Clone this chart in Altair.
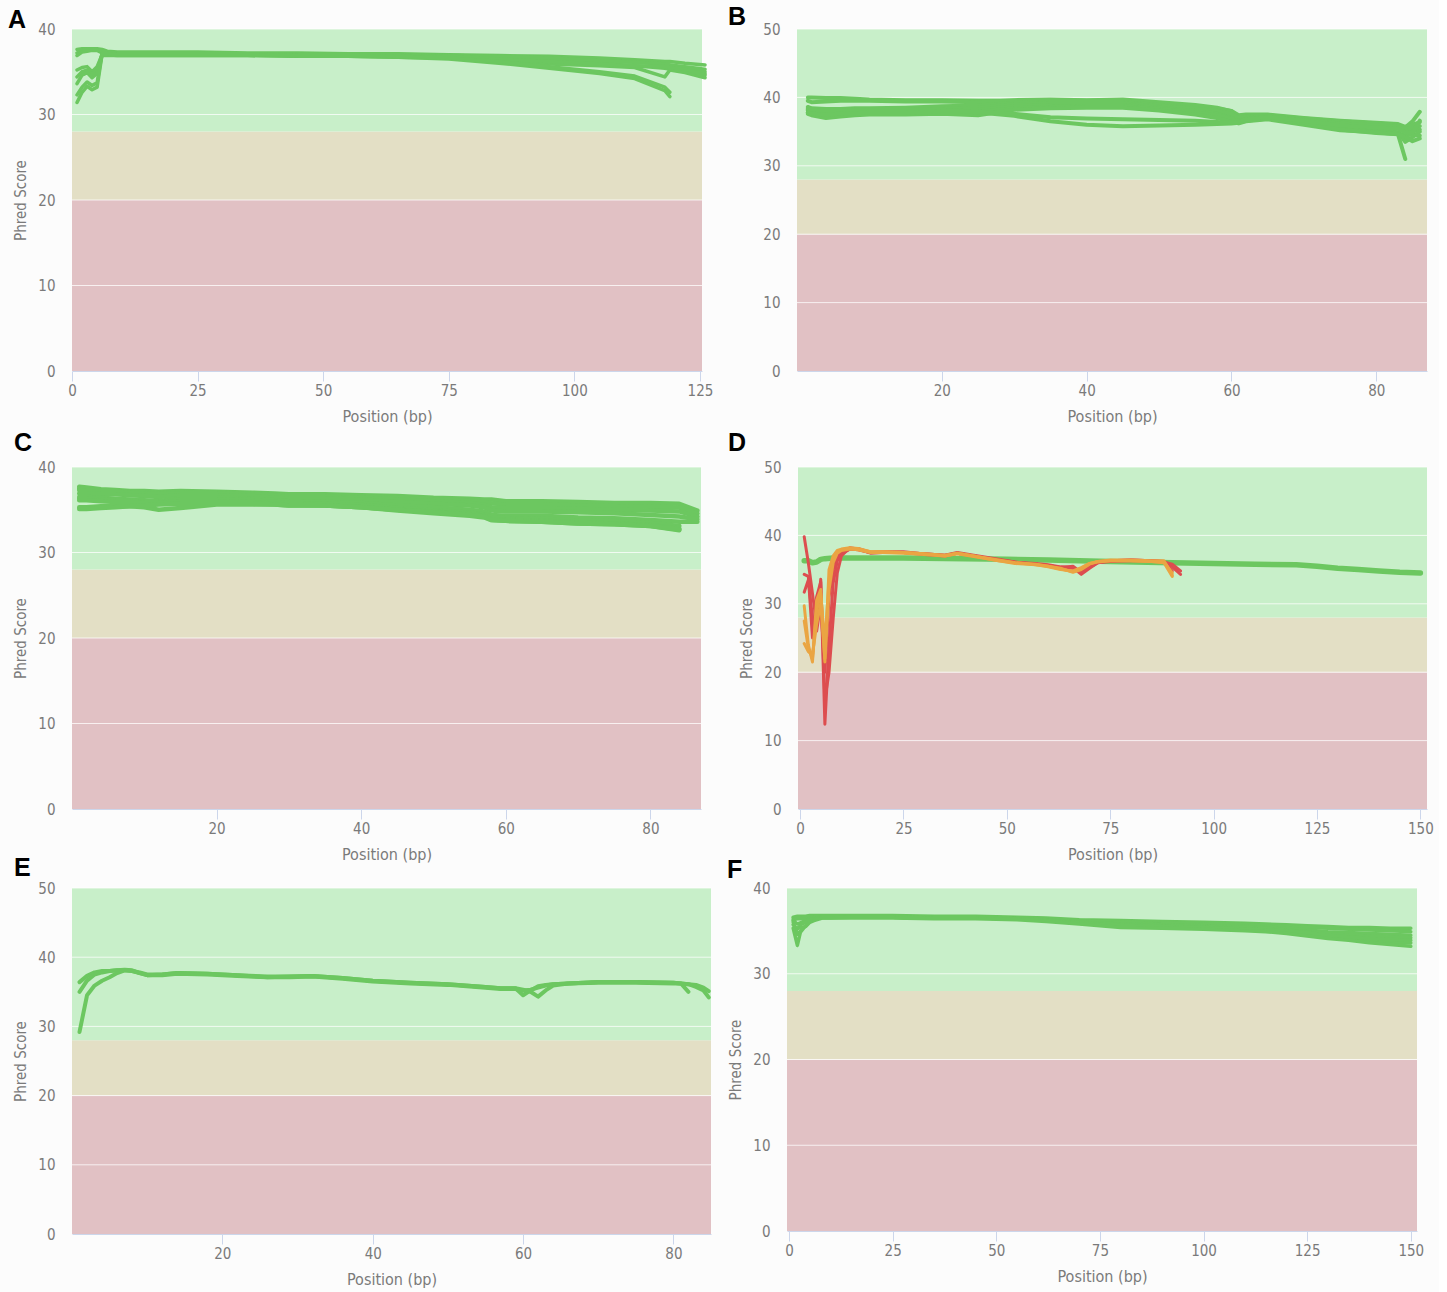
import altair as alt
import pandas as pd

# ---------------------------------------------------------------------------
# Per-base sequence quality (mean Phred score by read position), six runs.
# ---------------------------------------------------------------------------

# Panel A: 126 bp reads
A_pos = [1, 2, 3, 4, 5, 6, 7, 9, 15, 25, 35, 45, 55, 65, 75, 85, 95, 105, 112, 118, 119, 122, 126]
A_series = {
    "a1": [37.6, 37.7, 37.7, 37.7, 37.7, 37.6, 37.4, 37.3, 37.3, 37.3, 37.2, 37.2, 37.1, 37.1, 37.0, 36.9, 36.8, 36.6, 36.4, 36.2, 36.2, 36.0, 35.8],
    "a7": [37.2, 37.5, 37.6, 37.6, 37.6, 37.4, 37.3, 37.2, 37.2, 37.2, 37.1, 37.1, 37.0, 37.0, 36.9, 36.8, 36.6, 36.3, 36.1, 35.9, 35.8, 35.4, 35.0],
    "a2": [36.9, 37.3, 37.4, 37.5, 37.5, 37.2, 37.1, 37.0, 37.0, 37.0, 37.0, 36.9, 36.9, 36.8, 36.8, 36.6, 36.3, 36.0, 35.7, 35.4, 35.3, 35.1, 34.8],
    "a3": [35.2, 35.5, 35.6, 35.0, 35.6, 37.0, 37.0, 36.9, 36.9, 36.9, 36.9, 36.8, 36.8, 36.7, 36.6, 36.2, 35.9, 35.7, 35.5, 34.4, 35.2, 34.9, 34.3],
    "a6": [32.3, 33.2, 33.8, 33.4, 33.7, 37.2, 37.2, 37.1, 37.1, 37.1, 37.1, 37.0, 37.0, 37.0, 36.9, 36.8, 36.6, 36.3, 36.1, 35.9, 35.8, 35.6, 35.3],
    "a8": [34.4, 35.0, 35.2, 34.6, 35.2, 37.1, 37.1, 37.0, 37.0, 37.0, 37.0, 36.9, 36.9, 36.9, 36.8, 36.5, 36.2, 35.9, 35.7, 35.6, 35.5, 35.3, 34.6],
    "a4": [33.6, 34.6, 34.9, 34.3, 34.8, 36.9, 36.9, 36.9, 36.9, 36.9, 36.9, 36.8, 36.8, 36.7, 36.5, 36.0, 35.4, 34.8, 34.2, 32.8, 32.1, None, None],
    "a5": [31.4, 32.6, 33.3, 32.9, 33.2, 37.1, 37.1, 37.0, 37.0, 37.0, 37.0, 36.9, 36.9, 36.8, 36.6, 36.2, 35.6, 35.0, 34.5, 33.2, 32.6, None, None],
}

# Panel B: 86 bp reads
B_pos = [1.5, 2, 4, 6, 8, 10, 15, 20, 25, 30, 35, 40, 45, 50, 55, 58, 60, 61, 62, 65, 70, 75, 80, 83, 84, 85, 86]
B_series = {
    "b1": [40.0, 40.0, 39.9, 39.9, 39.8, 39.7, 39.6, 39.6, 39.5, 39.5, 39.6, 39.5, 39.5, 39.1, 38.7, 38.4, 38.0, 37.2, 37.3, 37.4, 36.9, 36.5, 36.2, 36.0, 35.6, 36.5, 37.9],
    "b2": [39.5, 39.3, 39.4, 39.5, 39.5, 39.5, 39.4, 39.4, 39.3, 39.6, 39.7, 39.6, 39.7, 39.3, 38.9, 38.5, 38.0, 37.4, 37.5, 37.5, 37.0, 36.6, 36.3, 36.1, 35.7, 36.0, 36.4],
    "b3": [38.6, 38.4, 38.3, 38.3, 38.4, 38.4, 38.5, 38.7, 38.8, 39.2, 39.3, 39.3, 39.3, 38.9, 38.4, 38.1, 37.5, 36.9, 37.2, 37.3, 36.8, 36.4, 36.1, 35.9, 35.4, 35.5, 35.8],
    "b8": [38.3, 38.1, 38.0, 38.1, 38.2, 38.2, 38.2, 38.3, 38.5, 39.0, 39.1, 39.1, 39.1, 38.7, 38.3, 38.0, 37.6, 37.0, 37.0, 37.2, 36.7, 36.2, 35.9, 35.7, 35.3, 35.0, 35.3],
    "b4": [38.1, 37.9, 37.8, 37.9, 38.0, 38.0, 38.0, 38.1, 38.2, 38.7, 38.9, 38.9, 38.9, 38.5, 38.0, 37.6, 37.0, 36.6, 36.9, 37.0, 36.3, 35.5, 35.2, 34.9, 33.5, 34.2, 35.0],
    "b9": [37.8, 37.7, 37.5, 37.6, 37.7, 37.8, 37.8, 37.9, 37.9, 38.4, 38.6, 38.7, 38.7, 38.3, 37.8, 37.4, 36.8, 36.5, 36.8, 36.9, 36.2, 35.4, 35.1, 34.8, 34.4, 34.6, 34.4],
    "b5": [37.6, 37.4, 37.0, 37.2, 37.4, 37.5, 37.5, 37.6, 37.4, 38.2, 38.4, 38.5, 38.5, 38.1, 37.5, 37.0, 36.4, 36.2, 36.5, 36.8, 36.0, 35.2, 34.9, 34.6, 31.0, None, None],
    "b6": [38.3, 38.2, 38.1, 38.1, 38.2, 38.2, 38.2, 38.2, 37.8, 37.3, 36.5, 36.0, 35.8, 35.9, 36.0, 36.1, 36.2, 36.3, 36.6, 36.9, 36.3, 35.3, 34.8, 34.6, 34.2, 33.6, 34.0],
    "b7": [37.8, 37.6, 37.5, 37.6, 37.7, 37.8, 37.8, 37.9, 37.9, 37.6, 37.1, 36.9, 36.8, 36.7, 36.6, 36.4, 36.3, 36.4, 36.8, 37.1, 36.6, 35.9, 35.6, 35.4, 34.9, 34.8, 36.6],
}

# Panel C: 86 bp reads
C_pos = [1, 2, 4, 6, 8, 10, 12, 15, 20, 25, 28, 30, 35, 40, 45, 50, 55, 57, 58, 60, 65, 70, 75, 80, 84, 86.5]
C_series = {
    "c1": [37.7, 37.6, 37.4, 37.3, 37.2, 37.2, 37.1, 37.2, 37.1, 37.0, 36.9, 36.8, 36.8, 36.7, 36.6, 36.4, 36.3, 36.2, 36.2, 36.0, 36.0, 35.9, 35.8, 35.8, 35.7, 34.9],
    "c8": [37.5, 37.4, 37.25, 37.2, 37.1, 37.05, 36.95, 37.05, 37.0, 36.9, 36.75, 36.65, 36.65, 36.55, 36.4, 36.2, 36.05, 35.9, 35.75, 35.6, 35.6, 35.5, 35.4, 35.35, 35.25, 34.55],
    "c2": [37.3, 37.2, 37.1, 37.1, 37.0, 36.9, 36.8, 36.9, 36.9, 36.8, 36.6, 36.5, 36.5, 36.4, 36.2, 36.0, 35.8, 35.6, 35.3, 35.2, 35.2, 35.1, 35.0, 34.9, 34.8, 34.2],
    "c7": [36.9, 36.9, 36.8, 36.8, 36.7, 36.6, 36.5, 36.7, 36.7, 36.6, 36.4, 36.3, 36.3, 36.2, 35.9, 35.7, 35.5, 35.3, 34.9, 34.8, 34.8, 34.7, 34.6, 34.4, 34.2, 33.9],
    "c3": [36.5, 36.5, 36.4, 36.3, 36.2, 36.1, 36.0, 36.4, 36.4, 36.3, 36.1, 36.0, 35.9, 35.8, 35.5, 35.3, 35.0, 34.8, 34.4, 34.3, 34.3, 34.1, 34.0, 33.8, 33.6, 33.6],
    "c9": [36.3, 36.3, 36.2, 36.1, 36.05, 35.95, 35.9, 36.2, 36.2, 36.1, 35.9, 35.8, 35.7, 35.55, 35.2, 34.95, 34.65, 34.45, 34.1, 34.0, 33.95, 33.75, 33.65, 33.45, 33.1, None],
    "c4": [36.1, 36.1, 36.0, 35.9, 35.9, 35.8, 35.8, 36.0, 36.0, 35.9, 35.7, 35.6, 35.5, 35.3, 34.9, 34.6, 34.3, 34.1, 33.8, 33.7, 33.6, 33.4, 33.3, 33.1, 32.6, None],
    "c5": [35.3, 35.3, 35.4, 35.4, 35.4, 35.3, 35.0, 35.2, 35.6, 35.6, 35.6, 35.5, 35.5, 35.3, 35.0, 34.8, 34.5, 34.3, 33.9, 33.8, 33.7, 33.5, 33.4, 33.2, 32.8, None],
    "c6": [35.1, 35.1, 35.2, 35.3, 35.4, 35.5, 35.6, 35.7, 35.7, 35.7, 35.6, 35.5, 35.5, 35.3, 35.0, 34.7, 34.4, 34.2, 33.8, 33.7, 33.6, 33.4, 33.3, 33.1, 32.7, None],
}

# Panel D: one 150 bp library and several short, low-quality runs
D_green_pos = [1, 2, 3, 4, 5, 6, 8, 10, 15, 25, 40, 50, 60, 75, 90, 100, 110, 120, 125, 130, 135, 140, 145, 150]
D_green = [36.3, 36.3, 36.0, 36.1, 36.5, 36.6, 36.7, 36.7, 36.7, 36.7, 36.6, 36.5, 36.4, 36.2, 36.0, 35.9, 35.8, 35.7, 35.5, 35.2, 35.0, 34.8, 34.6, 34.5]
D_pos = [1, 2, 3, 4, 5, 6, 7, 8, 9, 10, 12, 14, 17, 20, 25, 30, 35, 38, 42, 48, 52, 57, 60, 63, 66, 68, 70, 72, 75, 80, 85, 88, 90, 92]
D_fail = {
    "r1": [39.8, 36.0, 31.5, 27.0, 33.6, 12.4, 24.0, 33.0, 36.3, 37.3, 38.0, 38.1, 37.5, 37.6, 37.6, 37.3, 37.1, 37.5, 37.1, 36.5, 36.1, 35.9, 35.7, 35.4, 35.3, 34.3, 35.2, 36.0, 36.3, 36.4, 36.3, 36.2, 35.4, 34.3],
    "r2": [34.3, 34.0, 25.0, 31.0, 33.2, 16.0, 20.0, 27.8, 34.5, 37.0, 38.2, 38.0, 37.4, 37.5, 37.5, 37.3, 37.1, 37.4, 37.0, 36.4, 36.1, 35.8, 35.6, 35.3, 35.5, 34.6, 35.5, 36.1, 36.3, 36.4, 36.3, 36.2, 34.8, None],
    "r3": [31.7, 33.5, 28.0, 26.0, 30.0, 20.0, 31.0, 35.0, 36.8, 37.5, 38.0, 37.9, 37.5, 37.6, 37.5, 37.2, 37.0, 37.4, 37.0, 36.4, 36.0, 35.8, 35.6, 35.3, 35.2, 34.5, 35.3, 36.0, 36.2, 36.3, 36.3, 36.1, 35.8, 34.8],
}
D_warn = {
    "o1": [29.7, 24.0, 21.5, 30.5, 32.1, 21.5, 35.0, 37.0, 37.8, 38.0, 38.2, 38.1, 37.6, 37.6, 37.5, 37.3, 37.1, 37.4, 37.0, 36.4, 36.0, 35.8, 35.5, 35.2, 34.6, 35.0, 35.8, 36.2, 36.4, 36.4, 36.3, 36.3, 34.2, None],
    "o2": [27.5, 23.5, 22.0, 29.0, 31.5, 24.0, 33.5, 36.5, 37.6, 37.9, 38.1, 38.0, 37.6, 37.6, 37.5, 37.3, 37.0, 37.4, 37.0, 36.3, 36.0, 35.7, 35.5, 35.1, 34.7, 35.2, 35.9, 36.2, 36.3, 36.3, 36.2, 36.1, 34.5, None],
    "o3": [24.2, 23.0, 22.5, 27.0, 30.0, 22.0, 32.0, 36.0, 37.4, 37.8, 38.0, 37.9, 37.5, 37.5, 37.4, 37.2, 37.0, 37.3, 36.9, 36.3, 35.9, 35.7, 35.4, 35.0, 34.8, 35.3, 35.9, 36.1, 36.3, 36.3, 36.2, 36.0, 34.0, None],
}

# Panel E: 85 bp reads
E_pos = [1, 2, 3, 4, 5, 6, 7, 8, 9, 10, 12, 14, 18, 22, 26, 29, 32, 36, 40, 45, 50, 55, 57, 59, 60, 61, 62, 63, 64, 66, 70, 75, 80, 81, 82, 83, 84, 84.7]
E_series = {
    "e1": [36.4, 37.3, 37.8, 38.0, 38.0, 38.1, 38.2, 38.1, 37.7, 37.4, 37.5, 37.7, 37.6, 37.4, 37.1, 37.2, 37.3, 37.0, 36.6, 36.3, 36.1, 35.7, 35.5, 35.5, 34.5, 35.2, 35.8, 36.0, 36.1, 36.2, 36.4, 36.4, 36.3, 36.2, 35.0, None, None, None],
    "e2": [35.0, 36.6, 37.5, 37.8, 38.0, 38.1, 38.1, 38.0, 37.8, 37.5, 37.5, 37.7, 37.6, 37.4, 37.2, 37.2, 37.3, 37.0, 36.6, 36.3, 36.1, 35.7, 35.5, 35.5, 35.3, 35.0, 34.3, 35.2, 35.9, 36.2, 36.4, 36.4, 36.3, 36.2, 36.1, 35.7, 35.2, 34.2],
    "e3": [29.2, 34.5, 35.9, 36.6, 37.1, 37.7, 38.1, 38.0, 37.7, 37.4, 37.4, 37.6, 37.5, 37.3, 37.1, 37.1, 37.2, 36.9, 36.5, 36.2, 36.0, 35.6, 35.4, 35.4, 35.2, 35.3, 35.6, 35.9, 36.1, 36.2, 36.3, 36.3, 36.2, 36.2, 36.1, 36.0, 35.6, 35.1],
}

# Panel F: 150 bp reads
F_pos = [1, 2, 3, 4, 5, 6, 8, 10, 15, 25, 35, 45, 55, 62, 70, 80, 90, 100, 110, 115, 120, 125, 130, 135, 140, 145, 150]
F_series = {
    "f1": [36.6, 36.7, 36.7, 36.7, 36.8, 36.8, 36.8, 36.8, 36.8, 36.8, 36.7, 36.7, 36.6, 36.5, 36.3, 36.2, 36.1, 36.0, 35.9, 35.8, 35.7, 35.6, 35.5, 35.4, 35.4, 35.3, 35.3],
    "f6": [36.5, 36.5, 36.5, 36.6, 36.7, 36.7, 36.7, 36.7, 36.7, 36.7, 36.6, 36.6, 36.5, 36.4, 36.2, 36.0, 35.9, 35.8, 35.7, 35.6, 35.5, 35.4, 35.3, 35.2, 35.1, 35.0, 34.9],
    "f2": [36.3, 36.4, 36.4, 36.4, 36.5, 36.6, 36.6, 36.6, 36.6, 36.6, 36.5, 36.5, 36.4, 36.3, 36.0, 35.8, 35.7, 35.6, 35.5, 35.4, 35.3, 35.1, 34.9, 34.8, 34.7, 34.6, 34.5],
    "f7": [36.2, 35.8, 36.0, 36.2, 36.4, 36.5, 36.6, 36.6, 36.6, 36.6, 36.5, 36.5, 36.4, 36.2, 36.0, 35.8, 35.7, 35.5, 35.4, 35.3, 35.1, 34.9, 34.7, 34.5, 34.4, 34.3, 34.2],
    "f5": [36.0, 34.6, 35.0, 35.6, 36.1, 36.3, 36.6, 36.6, 36.6, 36.6, 36.5, 36.5, 36.4, 36.2, 35.9, 35.7, 35.6, 35.4, 35.2, 35.1, 34.9, 34.6, 34.3, 34.1, 33.9, 33.7, 33.6],
    "f3": [35.7, 35.2, 35.8, 36.0, 36.3, 36.4, 36.5, 36.5, 36.6, 36.6, 36.5, 36.5, 36.4, 36.2, 35.9, 35.6, 35.5, 35.4, 35.2, 35.1, 35.0, 34.8, 34.5, 34.3, 34.1, 34.0, 33.9],
    "f4": [35.3, 33.3, 35.4, 35.5, 36.0, 36.2, 36.5, 36.5, 36.5, 36.5, 36.4, 36.4, 36.3, 36.1, 35.8, 35.4, 35.3, 35.2, 35.0, 34.9, 34.7, 34.4, 34.1, 33.9, 33.6, 33.4, 33.2],
}

# Quality zones: fail below 20, warn 20-28, pass above 28
ZONE_EDGES = [0, 20, 28]
ZONE_COLORS = ["#e1c1c4", "#e3dfc5", "#c8efc9"]

GREEN = "#6cc760"
RED = "#dd4d4f"
ORANGE = "#eaa543"

FONT = "Liberation Sans Narrow, DejaVu Sans Condensed, Arial Narrow, Roboto, sans-serif"
GREY = "#7a7a7a"
AXIS_BLUE = "#ccd6eb"


def long_frame(pos, series):
    rows = []
    for name, vals in series.items():
        assert len(vals) == len(pos), name
        for x, v in zip(pos, vals):
            if v is not None:
                rows.append({"pos": x, "q": v, "s": name})
    return pd.DataFrame(rows)


def panel(letter, line_sets, xdom, ymax, w, h, xticks, ytitle, letter_dx, letter_dy):
    ysc = alt.Scale(domain=[0, ymax], nice=False, zero=False)
    xsc = alt.Scale(domain=xdom, nice=False, zero=False)
    yticks = list(range(0, ymax + 1, 10))

    yaxis = alt.Axis(
        values=yticks, grid=False, domain=False, ticks=False, tickSize=0,
        labelPadding=17, labelFont=FONT, labelFontSize=15, labelColor=GREY,
        title=ytitle, titleFont=FONT, titleFontSize=15, titleFontWeight="normal",
        titleColor=GREY, titleAngle=270, titleAlign="center", titleBaseline="middle",
        titleX=-52, titleY=h / 2,
    )
    xaxis = alt.Axis(
        values=xticks, grid=False, domainColor=AXIS_BLUE, tickColor=AXIS_BLUE,
        tickSize=10, labelPadding=2, labelFlush=False, labelFont=FONT,
        labelFontSize=15, labelColor=GREY, title="Position (bp)", titleFont=FONT,
        titleFontSize=16, titleFontWeight="normal", titleColor=GREY,
        titleAlign="center", titleBaseline="middle", titleX=w / 2, titleY=45,
    )

    zones = pd.DataFrame({
        "lo": ZONE_EDGES,
        "hi": ZONE_EDGES[1:] + [ymax],
        "c": ZONE_COLORS,
    })
    bands = alt.Chart(zones).mark_rect().encode(
        y=alt.Y("lo:Q", scale=ysc, axis=yaxis),
        y2="hi:Q",
        color=alt.Color("c:N", scale=None),
    )
    grid = alt.Chart(pd.DataFrame({"t": yticks[1:]})).mark_rule(
        color="white", opacity=0.75, strokeWidth=1
    ).encode(y=alt.Y("t:Q", scale=ysc, axis=yaxis))

    layers = [bands, grid]
    for df, color, sw in line_sets:
        layers.append(
            alt.Chart(df).mark_line(
                color=color, strokeWidth=sw, strokeCap="round", strokeJoin="round"
            ).encode(
                x=alt.X("pos:Q", scale=xsc, axis=xaxis),
                y=alt.Y("q:Q", scale=ysc, axis=yaxis),
                detail="s:N",
            )
        )
    return alt.layer(*layers).properties(
        width=w,
        height=h,
        title=alt.TitleParams(
            text=letter, anchor="start", frame="group", orient="top",
            dx=letter_dx, dy=letter_dy, offset=0, baseline="bottom",
            font="Liberation Sans, Arial, sans-serif", fontSize=25,
            fontWeight="bold", color="black",
        ),
    )


pA = panel("A", [(long_frame(A_pos, A_series), GREEN, 3.5)],
           [0, 125.4], 40, 630, 342, [0, 25, 50, 75, 100, 125], "Phred Score", -64, 36)
pB = panel("B", [(long_frame(B_pos, B_series), GREEN, 4)],
           [0, 87], 50, 630, 342, [20, 40, 60, 80], "", -69, 33)
pC = panel("C", [(long_frame(C_pos, C_series), GREEN, 4.5)],
           [0, 87], 40, 629, 342, [20, 40, 60, 80], "Phred Score", -58, 21)
pD = panel("D", [
    (long_frame(D_green_pos, {"g": D_green}), GREEN, 5.5),
    (long_frame(D_pos, D_fail), RED, 3),
    (long_frame(D_pos, D_warn), ORANGE, 3),
], [-0.5, 151.6], 50, 629, 342, [0, 25, 50, 75, 100, 125, 150], "Phred Score", -70, 21)
pE = panel("E", [(long_frame(E_pos, E_series), GREEN, 4)],
           [0, 85], 50, 639, 346, [20, 40, 60, 80], "Phred Score", -58, 25)
pF = panel("F", [(long_frame(F_pos, F_series), GREEN, 3.5)],
           [-0.5, 151.5], 40, 630, 343, [0, 25, 50, 75, 100, 125, 150], "Phred Score", -60, 27)

row1 = alt.hconcat(pA, pB, spacing=95, bounds="flush")
row2 = alt.hconcat(pC, pD, spacing=97, bounds="flush")
row3 = alt.hconcat(pE, pF, spacing=76, bounds="flush")
upper = alt.vconcat(row1, row2, spacing=7)

chart = (
    alt.vconcat(upper, row3, spacing=-6)
    .properties(background="#fcfcfc", padding={"left": 8, "top": 5, "right": 5, "bottom": 5})
    .configure_view(stroke=None)
)

chart.save("out.html", embed_options={"renderer": "svg", "actions": False})
